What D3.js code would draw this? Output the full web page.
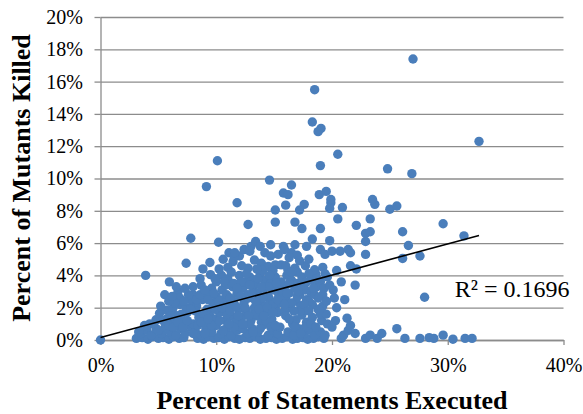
<!DOCTYPE html>
<html>
<head>
<meta charset="utf-8">
<script src="https://cdn.jsdelivr.net/npm/d3@7"></script>
<style>
  body { margin: 0; background: #fff; }
  svg { display: block; }
  text { font-family: "Liberation Serif", "Times New Roman", serif; fill: #000; }
</style>
</head>
<body>
<script>
// Data: [percent of statements executed, percent of mutants killed]
const zeroRow = [
  [0, 0], [3.1, 0.1], [3.6, 0.15], [4.1, 0.05], [4.5, 0.2], [5.0, 0.1], [5.4, 0.15], [5.9, 0.05],
  [6.3, 0.2], [6.8, 0.1], [7.2, 0.15], [8.4, 0.1], [8.9, 0.05], [9.3, 0.2], [9.8, 0.1], [10.2, 0.15],
  [10.7, 0.05], [11.1, 0.2], [11.6, 0.1], [12.0, 0.05], [12.5, 0.15], [12.9, 0.1], [13.4, 0.2],
  [13.8, 0.05], [14.3, 0.1], [14.8, 0.15], [15.2, 0.05], [15.7, 0.1], [16.1, 0.2], [16.6, 0.05],
  [17.0, 0.1], [17.5, 0.15], [17.9, 0.05], [18.4, 0.1], [18.8, 0.2], [19.3, 0.1], [20.8, 0.1],
  [22.9, 0.1], [23.9, 0.1], [26.3, 0.1], [27.6, 0.1], [28.4, 0.15], [28.8, 0.1], [30.45, 0.05],
  [31.5, 0.1], [32.1, 0.1]
];

const lowBand = [
  [3.5, 0.4], [4.0, 0.6], [4.4, 0.3], [4.8, 0.7], [5.3, 0.4], [5.6, 0.8], [6.0, 0.5], [6.5, 0.3],
  [6.9, 0.7], [7.3, 0.4], [7.8, 0.8], [8.2, 0.5], [8.7, 0.3], [9.1, 0.7], [9.6, 0.5], [10.0, 0.9],
  [10.4, 0.4], [10.9, 0.7], [11.3, 0.3], [11.8, 0.6], [12.7, 0.4], [13.1, 0.7], [13.6, 0.5],
  [14.0, 0.9], [14.5, 0.3], [14.9, 0.6], [15.3, 0.4], [16.2, 0.5], [16.7, 0.3], [17.1, 0.7],
  [17.6, 0.4], [18.1, 0.6], [18.5, 0.3], [19.0, 0.5], [19.4, 0.3],
  [21.0, 0.3], [21.4, 0.6], [21.6, 0.9], [22.0, 0.4], [23.3, 0.3], [24.3, 0.4], [21.3, 1.35],
  [25.6, 0.7], [29.6, 0.3]
];

const midBand = [
  [4.25, 1.0], [4.8, 1.25], [5.1, 1.65], [5.7, 1.3], [6.2, 1.1], [6.6, 1.5], [7.1, 1.2], [7.5, 1.7],
  [8.0, 1.0], [8.5, 1.4], [9.0, 1.1], [9.4, 1.6], [9.9, 1.3], [10.3, 1.7], [10.8, 1.2], [11.3, 1.5],
  [11.7, 1.1], [12.2, 1.4], [12.6, 1.8], [13.0, 1.2], [13.5, 1.5], [13.9, 1.1], [14.3, 1.7],
  [14.8, 1.3], [16.6, 1.0], [16.9, 1.25], [17.4, 1.55], [17.8, 1.1], [18.3, 1.4], [19.1, 1.2],
  [5.7, 1.85], [6.25, 1.95], [6.85, 2.2], [7.4, 2.0], [7.9, 2.4], [8.3, 2.1], [8.8, 2.5], [9.2, 1.9],
  [9.7, 2.3], [10.1, 2.0], [10.6, 2.5], [11.0, 2.1], [11.5, 2.4], [11.9, 1.9], [12.4, 2.3],
  [12.8, 2.6], [13.3, 2.0], [13.7, 2.4], [14.2, 2.1], [14.6, 2.5], [15.1, 2.0], [15.5, 2.3],
  [16.0, 2.6], [16.4, 2.0], [16.9, 2.4], [17.3, 2.1], [17.8, 2.5], [18.3, 2.2], [18.8, 1.9],
  [19.5, 2.4], [15.3, 1.7], [15.9, 1.8]
];

const upperBand = [
  [6.7, 3.0], [6.85, 2.6], [5.55, 2.8], [6.55, 3.3], [8.0, 2.8], [8.3, 2.5], [8.7, 3.4], [9.2, 2.9],
  [9.6, 3.2], [10.0, 2.7], [10.5, 3.1], [10.9, 2.8], [11.4, 3.3], [11.8, 2.9], [12.3, 3.2],
  [12.7, 2.8], [13.2, 3.3], [13.6, 2.9], [14.1, 3.2], [14.5, 2.7], [15.0, 3.1], [15.4, 2.8],
  [15.9, 3.3], [16.3, 2.9], [16.8, 3.2], [17.2, 2.8], [17.7, 3.1], [18.2, 2.9], [18.7, 3.3],
  [19.2, 2.8],
  [8.6, 3.8], [9.5, 4.05], [10.45, 4.0], [10.0, 3.6], [11.0, 3.8], [11.5, 3.5], [12.0, 4.0],
  [12.4, 3.6], [12.9, 3.9], [13.3, 3.5], [13.8, 4.1], [14.2, 3.7], [14.7, 3.5], [15.1, 3.9],
  [15.6, 3.6], [16.1, 4.0], [16.5, 3.7], [17.0, 3.5], [17.4, 3.9], [18.2, 3.7], [18.6, 4.1],
  [19.0, 3.6], [19.6, 3.9], [22.0, 3.4],
  [8.85, 4.4], [9.45, 4.8], [10.25, 4.4], [11.45, 4.85], [11.0, 4.5], [12.2, 4.6], [12.75, 4.45],
  [13.3, 4.95], [13.9, 4.75], [14.5, 4.55], [15.1, 4.65], [15.6, 4.65], [16.2, 4.3], [16.8, 4.45],
  [17.7, 4.6], [18.5, 4.35], [20.4, 4.3], [22.1, 4.4], [21.6, 4.6], [19.2, 4.5], [17.2, 4.9],
  [14.0, 4.3], [7.4, 4.75]
];

const fillBand = [
  [9.0, 0.4], [9.5, 1.0], [9.9, 1.9], [10.2, 2.4], [10.6, 0.6], [10.9, 1.6], [11.2, 2.6], [11.5, 0.8],
  [11.9, 1.5], [12.1, 3.6], [12.3, 0.7], [12.5, 2.0], [12.9, 1.0], [13.1, 2.9], [13.3, 1.6],
  [13.6, 3.8], [13.8, 0.7], [14.0, 2.6], [14.3, 1.2], [14.5, 3.3], [14.7, 0.8], [14.9, 2.2],
  [15.2, 3.5], [15.5, 0.8], [15.7, 2.7], [16.0, 1.5], [16.3, 3.5], [16.5, 2.3], [16.8, 0.8],
  [17.0, 2.7], [17.3, 1.8], [17.5, 3.4], [17.7, 0.8], [18.0, 2.4], [18.2, 1.0], [18.5, 2.8],
  [18.7, 3.8], [19.0, 1.6], [19.3, 3.2], [19.6, 1.0],
  [8.2, 1.8], [8.6, 2.8], [8.9, 1.6], [9.3, 2.5], [9.6, 0.9], [7.0, 1.6], [6.4, 2.3], [7.6, 2.8],
  [5.2, 2.1], [6.0, 1.5], [7.3, 3.2], [9.9, 3.8], [10.8, 3.4], [11.3, 4.2], [12.6, 4.1],
  [13.5, 4.4], [14.9, 4.3], [16.0, 4.6], [17.0, 4.2], [18.0, 4.1], [19.4, 4.1], [10.6, 5.0],
  [12.0, 5.2], [13.0, 5.8], [14.2, 5.4], [16.5, 5.4], [18.0, 5.0], [19.0, 5.6], [20.1, 3.1],
  [20.4, 2.0], [20.8, 3.6], [20.3, 1.2], [21.1, 2.5]
];

const denseCore = [
  [3.3, 0.5], [3.8, 0.9], [4.6, 1.0], [5.0, 0.6], [5.4, 1.2], [5.9, 0.9], [6.3, 0.8], [6.7, 1.1],
  [7.1, 0.8], [7.5, 1.2], [8.0, 0.4], [8.4, 0.9], [8.7, 1.1], [9.3, 1.3], [5.9, 2.4], [6.2, 2.7],
  [7.2, 2.4], [7.8, 1.9], [8.0, 3.3], [9.0, 3.1], [9.8, 2.9], [10.3, 1.2], [10.5, 2.0], [10.7, 3.6],
  [11.1, 1.0], [11.2, 1.8], [11.7, 2.1], [11.8, 3.2], [12.1, 2.7], [12.3, 1.0], [12.8, 1.5],
  [12.9, 3.4], [13.2, 0.5], [13.4, 2.4], [13.7, 1.9], [13.9, 3.3], [14.1, 1.5], [14.4, 2.0],
  [14.6, 4.0], [14.9, 1.7], [15.1, 0.9], [15.3, 2.5], [15.6, 3.1], [15.9, 2.2], [16.1, 2.9],
  [16.3, 1.3], [16.5, 4.2], [16.7, 1.8], [17.1, 3.0], [17.3, 0.4], [17.6, 2.2], [17.8, 3.6],
  [18.0, 1.8], [18.4, 3.2], [18.6, 0.8], [18.8, 2.6], [19.2, 2.1], [19.5, 1.6], [19.8, 3.4],
  [20.0, 0.8], [20.2, 2.6]
];

const highBand = [
  [11.1, 5.4], [11.55, 5.15], [11.6, 5.4], [12.4, 5.6], [12.9, 5.5], [13.4, 6.1], [13.8, 5.8],
  [14.7, 5.2], [14.7, 5.9], [15.35, 5.3], [15.8, 5.8], [15.9, 5.6], [16.8, 5.9], [17.0, 5.25],
  [17.8, 5.8], [18.3, 6.25], [19.4, 5.3], [19.8, 6.15], [20.0, 5.5], [20.7, 5.5], [21.4, 5.6],
  [21.6, 5.4], [22.9, 5.3], [22.9, 6.1], [10.2, 6.05], [7.8, 6.3], [16.3, 5.1],
  [12.75, 7.15], [15.1, 7.3], [16.8, 7.3], [17.4, 6.9], [19.0, 6.9], [15.1, 8.05], [16.0, 8.35],
  [17.6, 8.4], [17.2, 8.05], [19.9, 8.5], [19.8, 8.15], [20.9, 8.2], [20.5, 7.5], [11.8, 8.5],
  [22.1, 7.1], [22.9, 6.6], [23.3, 6.7], [23.3, 7.5], [23.7, 8.4], [25.0, 8.1], [25.6, 8.3],
  [26.1, 6.7], [26.6, 5.85], [26.1, 5.05], [27.6, 5.2], [29.6, 7.2], [31.4, 6.45], [28.0, 2.65],
  [19.5, 2.4], [18.9, 1.85], [3.9, 4.0], [5.95, 3.6]
];

const outliers = [
  [27.0, 17.4], [18.5, 15.5], [18.3, 13.5], [19.05, 13.1], [18.8, 12.9], [32.7, 12.3],
  [20.5, 11.5], [19.0, 10.8], [24.8, 10.6], [26.9, 10.3], [10.1, 11.1], [9.15, 9.5], [14.6, 9.9],
  [16.5, 9.6], [15.8, 9.1], [16.2, 9.0], [18.9, 9.0], [19.5, 9.2], [19.9, 8.7], [23.5, 8.7]
];

const points = [].concat(zeroRow, lowBand, midBand, upperBand, fillBand, denseCore, highBand, outliers);

// Trend line
const trendIntercept = 0.16;
const trendSlope = 0.193;
const trendRange = [0, 32.7];
const rSquaredLabel = 'R² = 0.1696';

const xTicks = [0, 10, 20, 30, 40];
const yTicks = [0, 2, 4, 6, 8, 10, 12, 14, 16, 18, 20];

// Dimensions
const W = 583, H = 414;
const margin = { top: 17, right: 19.5, bottom: 74, left: 100.5 };
const width = W - margin.left - margin.right;
const height = H - margin.top - margin.bottom;

const serif = '"Liberation Serif", "Times New Roman", serif';

const svg = d3.select('body')
  .append('svg')
  .attr('width', W)
  .attr('height', H);

const g = svg.append('g')
  .attr('transform', `translate(${margin.left},${margin.top})`);

// Scales
const x = d3.scaleLinear().domain([0, 40]).range([0, width]);
const y = d3.scaleLinear().domain([0, 20]).range([height, 0]);

const gridColor = '#8c8c8c';

// Gridlines
g.append('g')
  .call(d3.axisLeft(y).tickValues(yTicks).tickSize(-width).tickFormat(''))
  .call(s => s.select('.domain').remove())
  .call(s => s.selectAll('line').attr('stroke', gridColor).attr('stroke-width', 1.3));

// Y axis
const yAxis = g.append('g')
  .call(d3.axisLeft(y).tickValues(yTicks).tickSize(6).tickSizeOuter(0).tickPadding(11.5)
    .tickFormat(d => d + '%'))
  .attr('font-family', serif)
  .attr('font-size', 20);
yAxis.select('.domain').attr('stroke', gridColor).attr('stroke-width', 1.3);
yAxis.selectAll('line').attr('stroke', gridColor).attr('stroke-width', 1.3);

// X axis
const xAxis = g.append('g')
  .attr('transform', `translate(0,${height})`)
  .call(d3.axisBottom(x).tickValues(xTicks).tickSize(5).tickSizeOuter(0)
    .tickFormat(d => d + '%'))
  .attr('font-family', serif)
  .attr('font-size', 20);
xAxis.select('.domain').attr('stroke', gridColor).attr('stroke-width', 1.3);
xAxis.selectAll('line').attr('stroke', gridColor).attr('stroke-width', 1.3);
xAxis.selectAll('text')
  .attr('y', 32)
  .attr('dy', null);

// Points
g.append('g')
  .selectAll('circle')
  .data(points)
  .enter().append('circle')
  .attr('cx', d => x(d[0]))
  .attr('cy', d => y(d[1]))
  .attr('r', 4.7)
  .style('fill', '#4a7ebb');

// Trend line
g.append('line')
  .attr('x1', x(trendRange[0]))
  .attr('y1', y(trendIntercept + trendSlope * trendRange[0]))
  .attr('x2', x(trendRange[1]))
  .attr('y2', y(trendIntercept + trendSlope * trendRange[1]))
  .attr('stroke', '#000')
  .attr('stroke-width', 1.6);

// R squared label
g.append('text')
  .attr('x', x(30.6))
  .attr('y', y(2.65))
  .style('font-size', '24px')
  .text(rSquaredLabel);

// Axis titles
svg.append('text')
  .attr('x', margin.left + width / 2)
  .attr('y', 409)
  .style('text-anchor', 'middle')
  .style('font-size', '26px')
  .style('font-weight', 'bold')
  .text('Percent of Statements Executed');

svg.append('text')
  .attr('transform', 'rotate(-90)')
  .attr('x', -178)
  .attr('y', 30)
  .style('text-anchor', 'middle')
  .style('font-size', '26px')
  .style('font-weight', 'bold')
  .text('Percent of Mutants Killed');
</script>
</body>
</html>
